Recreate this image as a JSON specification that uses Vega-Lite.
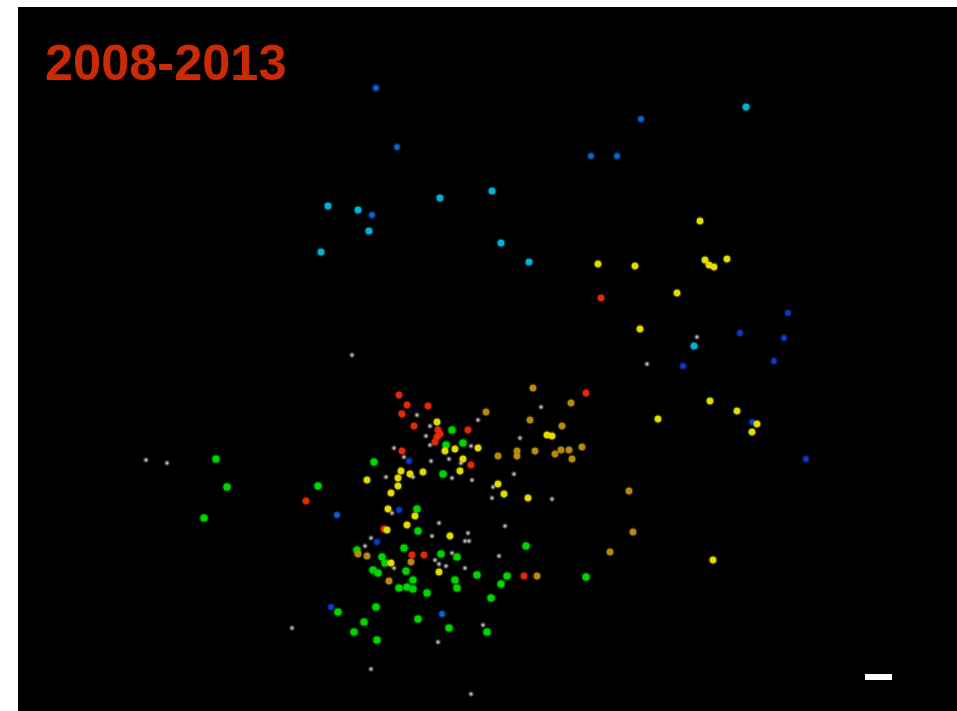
{"$schema":"https://vega.github.io/schema/vega-lite/v6.json","width":957,"height":711,"padding":0,"autosize":{"type":"none"},"background":"#ffffff","view":{"stroke":null},
"datasets":{
"boxes":[{"name":"panel","x":18,"x2":957,"y":7,"y2":711},{"name":"scale bar","x":865,"x2":892,"y":674,"y2":680}],
"label":[{"x":45,"y":80,"text":"2008-2013"}],
"pts":[
{"g":"gray","x":352,"y":355},{"g":"gray","x":146,"y":460},{"g":"gray","x":167,"y":463},{"g":"gray","x":697,"y":337},{"g":"gray","x":647,"y":364},{"g":"gray","x":292,"y":628},
{"g":"gray","x":541,"y":407},{"g":"gray","x":401,"y":413},{"g":"gray","x":417,"y":415},{"g":"gray","x":478,"y":420},{"g":"gray","x":430,"y":426},{"g":"gray","x":426,"y":436},{"g":"gray","x":430,"y":445},{"g":"gray","x":394,"y":448},{"g":"gray","x":471,"y":446},{"g":"gray","x":404,"y":457},{"g":"gray","x":431,"y":461},{"g":"gray","x":449,"y":459},{"g":"gray","x":461,"y":463},{"g":"gray","x":520,"y":438},{"g":"gray","x":386,"y":477},{"g":"gray","x":413,"y":477},{"g":"gray","x":452,"y":478},{"g":"gray","x":472,"y":480},{"g":"gray","x":514,"y":474},{"g":"gray","x":493,"y":487},{"g":"gray","x":492,"y":498},{"g":"gray","x":552,"y":499},{"g":"gray","x":392,"y":513},
{"g":"gray","x":439,"y":523},{"g":"gray","x":505,"y":526},{"g":"gray","x":432,"y":536},{"g":"gray","x":468,"y":533},{"g":"gray","x":465,"y":541},{"g":"gray","x":469,"y":541},{"g":"gray","x":365,"y":546},{"g":"gray","x":371,"y":538},{"g":"gray","x":452,"y":553},{"g":"gray","x":435,"y":560},{"g":"gray","x":439,"y":564},{"g":"gray","x":446,"y":566},{"g":"gray","x":394,"y":568},{"g":"gray","x":465,"y":568},{"g":"gray","x":499,"y":556},{"g":"gray","x":483,"y":625},{"g":"gray","x":438,"y":642},{"g":"gray","x":371,"y":669},{"g":"gray","x":471,"y":694},
{"g":"green","x":216,"y":459},{"g":"green","x":227,"y":487},{"g":"green","x":204,"y":518},{"g":"green","x":318,"y":486},
{"g":"green","x":452,"y":430},{"g":"green","x":446,"y":445},{"g":"green","x":463,"y":443},{"g":"green","x":374,"y":462},{"g":"green","x":443,"y":474},{"g":"green","x":417,"y":509},
{"g":"green","x":418,"y":531},{"g":"green","x":404,"y":548},{"g":"green","x":441,"y":554},{"g":"green","x":457,"y":557},{"g":"green","x":526,"y":546},{"g":"green","x":382,"y":557},{"g":"green","x":385,"y":563},{"g":"green","x":357,"y":550},{"g":"green","x":373,"y":570},{"g":"green","x":378,"y":573},{"g":"green","x":406,"y":571},{"g":"green","x":413,"y":580},{"g":"green","x":399,"y":588},{"g":"green","x":407,"y":587},{"g":"green","x":413,"y":589},{"g":"green","x":427,"y":593},{"g":"green","x":455,"y":580},{"g":"green","x":457,"y":588},{"g":"green","x":477,"y":575},{"g":"green","x":507,"y":576},{"g":"green","x":501,"y":584},{"g":"green","x":491,"y":598},{"g":"green","x":338,"y":612},{"g":"green","x":376,"y":607},{"g":"green","x":364,"y":622},{"g":"green","x":354,"y":632},{"g":"green","x":377,"y":640},{"g":"green","x":418,"y":619},{"g":"green","x":449,"y":628},{"g":"green","x":487,"y":632},{"g":"green","x":586,"y":577},
{"g":"orange","x":533,"y":388},{"g":"orange","x":571,"y":403},{"g":"orange","x":486,"y":412},{"g":"orange","x":530,"y":420},{"g":"orange","x":562,"y":426},{"g":"orange","x":498,"y":456},{"g":"orange","x":517,"y":451},{"g":"orange","x":517,"y":456},{"g":"orange","x":535,"y":451},{"g":"orange","x":555,"y":454},{"g":"orange","x":561,"y":450},{"g":"orange","x":569,"y":450},{"g":"orange","x":572,"y":459},{"g":"orange","x":582,"y":447},
{"g":"orange","x":358,"y":554},{"g":"orange","x":367,"y":556},{"g":"orange","x":411,"y":562},{"g":"orange","x":389,"y":581},{"g":"orange","x":537,"y":576},{"g":"orange","x":629,"y":491},{"g":"orange","x":633,"y":532},{"g":"orange","x":610,"y":552},
{"g":"red","x":601,"y":298},{"g":"red","x":306,"y":501},{"g":"red","x":399,"y":395},{"g":"red","x":407,"y":405},{"g":"red","x":428,"y":406},{"g":"red","x":402,"y":414},{"g":"red","x":414,"y":426},{"g":"red","x":468,"y":430},{"g":"red","x":438,"y":430},{"g":"red","x":440,"y":434},{"g":"red","x":437,"y":437},{"g":"red","x":435,"y":442},{"g":"red","x":402,"y":451},{"g":"red","x":471,"y":465},{"g":"red","x":586,"y":393},{"g":"red","x":412,"y":555},{"g":"red","x":424,"y":555},{"g":"red","x":524,"y":576},{"g":"red","x":384,"y":529},
{"g":"blue","x":409,"y":461},{"g":"blue","x":399,"y":510},{"g":"blue","x":377,"y":542},{"g":"blue","x":331,"y":607},{"g":"blue","x":806,"y":459},{"g":"blue","x":774,"y":361},{"g":"blue","x":683,"y":366},{"g":"blue","x":752,"y":422},{"g":"blue","x":788,"y":313},{"g":"blue","x":784,"y":338},{"g":"blue","x":740,"y":333},
{"g":"azure","x":376,"y":88},{"g":"azure","x":397,"y":147},{"g":"azure","x":641,"y":119},{"g":"azure","x":591,"y":156},{"g":"azure","x":617,"y":156},{"g":"azure","x":372,"y":215},{"g":"azure","x":337,"y":515},{"g":"azure","x":442,"y":614},
{"g":"cyan","x":746,"y":107},{"g":"cyan","x":328,"y":206},{"g":"cyan","x":358,"y":210},{"g":"cyan","x":369,"y":231},{"g":"cyan","x":321,"y":252},{"g":"cyan","x":440,"y":198},{"g":"cyan","x":492,"y":191},{"g":"cyan","x":501,"y":243},{"g":"cyan","x":529,"y":262},{"g":"cyan","x":694,"y":346},
{"g":"yellow","x":437,"y":422},{"g":"yellow","x":445,"y":451},{"g":"yellow","x":455,"y":449},{"g":"yellow","x":478,"y":448},{"g":"yellow","x":463,"y":459},{"g":"yellow","x":460,"y":471},{"g":"yellow","x":423,"y":472},{"g":"yellow","x":401,"y":471},{"g":"yellow","x":410,"y":474},{"g":"yellow","x":398,"y":478},{"g":"yellow","x":367,"y":480},{"g":"yellow","x":398,"y":486},{"g":"yellow","x":391,"y":493},{"g":"yellow","x":388,"y":509},{"g":"yellow","x":415,"y":516},{"g":"yellow","x":498,"y":484},{"g":"yellow","x":504,"y":494},{"g":"yellow","x":528,"y":498},{"g":"yellow","x":547,"y":435},{"g":"yellow","x":552,"y":436},{"g":"yellow","x":407,"y":525},{"g":"yellow","x":450,"y":536},{"g":"yellow","x":387,"y":530},{"g":"yellow","x":391,"y":563},{"g":"yellow","x":439,"y":572},
{"g":"yellow","x":700,"y":221},{"g":"yellow","x":598,"y":264},{"g":"yellow","x":635,"y":266},{"g":"yellow","x":705,"y":260},{"g":"yellow","x":709,"y":265},{"g":"yellow","x":714,"y":267},{"g":"yellow","x":727,"y":259},{"g":"yellow","x":677,"y":293},{"g":"yellow","x":640,"y":329},{"g":"yellow","x":658,"y":419},{"g":"yellow","x":710,"y":401},{"g":"yellow","x":737,"y":411},{"g":"yellow","x":757,"y":424},{"g":"yellow","x":752,"y":432},{"g":"yellow","x":713,"y":560}
]},
"layer":[
{"data":{"name":"boxes"},"mark":{"type":"rect","fill":"#000000"},"transform":[{"filter":"datum.name==='panel'"}],
"encoding":{"x":{"field":"x","type":"quantitative","scale":{"domain":[0,957],"nice":false,"zero":false},"axis":null},"x2":{"field":"x2"},"y":{"field":"y","type":"quantitative","scale":{"domain":[711,0],"nice":false,"zero":false},"axis":null},"y2":{"field":"y2"}}},
{"data":{"name":"pts"},"mark":{"type":"circle","opacity":1,"strokeWidth":2.5,"strokeOpacity":0.35},
"encoding":{"x":{"field":"x","type":"quantitative","axis":null},"y":{"field":"y","type":"quantitative","axis":null},
"color":{"field":"g","type":"nominal","legend":null,"scale":{"domain":["gray","green","orange","red","blue","azure","cyan","yellow"],"range":["#b4b4b4","#00d600","#b98a10","#e62a05","#0a3ccc","#0a66d8","#00b4d8","#e6dc00"]}},
"stroke":{"field":"g","type":"nominal","legend":null,"scale":{"domain":["gray","green","orange","red","blue","azure","cyan","yellow"],"range":["#b4b4b4","#00d600","#b98a10","#e62a05","#0a3ccc","#0a66d8","#00b4d8","#e6dc00"]}},
"size":{"field":"g","type":"nominal","legend":null,"scale":{"type":"ordinal","domain":["gray","green","orange","red","blue","azure","cyan","yellow"],"range":[9,50,40,40,28,28,42,40]}}}},
{"data":{"name":"boxes"},"mark":{"type":"rect","fill":"#ffffff"},"transform":[{"filter":"datum.name==='scale bar'"}],
"encoding":{"x":{"field":"x","type":"quantitative","axis":null},"x2":{"field":"x2"},"y":{"field":"y","type":"quantitative","axis":null},"y2":{"field":"y2"}}},
{"data":{"name":"label"},"mark":{"type":"text","font":"Liberation Sans","fontWeight":"bold","fontSize":50.5,"align":"left","baseline":"alphabetic","fill":"#cc2a06"},
"encoding":{"x":{"field":"x","type":"quantitative","axis":null},"y":{"field":"y","type":"quantitative","axis":null},"text":{"field":"text"}}}
]}
